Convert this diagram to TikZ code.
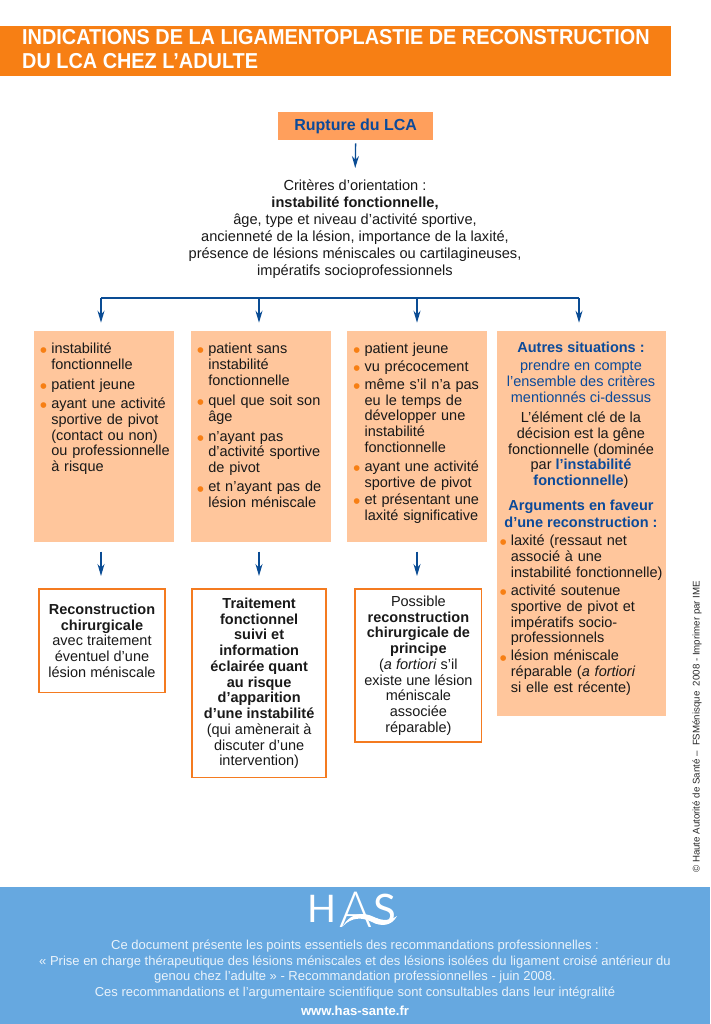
\documentclass[tikz,border=0pt]{standalone}
\usepackage{fontspec}
\setmainfont{Liberation Sans}
\newfontfamily\logofont{Lato Light}
\newfontfamily\logofontb{Lato}
\newfontfamily\titlefont{Liberation Sans}[FakeStretch=0.92]
\usetikzlibrary{arrows.meta,calc}
\definecolor{hdr}{HTML}{F77F14}
\definecolor{peach}{HTML}{FFC69C}
\definecolor{rup}{HTML}{FF9F5C}
\definecolor{navy}{HTML}{0B4A9A}
\definecolor{linkc}{HTML}{0A4C94}
\definecolor{edge}{HTML}{F47B20}
\definecolor{foot}{HTML}{66A8E0}
\definecolor{foottxt}{HTML}{EAF3FB}
\newcommand\itm[1][3.8pt]{\par\vspace{#1}\noindent\makebox[10.3pt][l]{\hspace{-1.1pt}\smash{\raisebox{-4.2pt}{\fontsize{21}{21}\selectfont\textcolor{hdr}{•}}}}\ignorespaces}
\newcommand\cl{\par\noindent\hspace*{10.3pt}\ignorespaces}
\newcommand\nv[1]{\textcolor{navy}{#1}}
\tikzset{
  body/.style={font=\fontsize{14.5}{15.75}\selectfont,text=black!90,inner sep=0pt,outer sep=0pt},
  pbox/.style={fill=peach,draw=none,inner sep=0pt,anchor=north west},
  resbox/.style={draw=edge,line width=1.8pt,fill=white,body,align=center,anchor=north west,inner sep=0pt},
  listtxt/.style={body,anchor=north west,align=left,text width=#1},
  link/.style={draw=linkc,line width=1.3pt},
  arr/.style={link,-{Stealth[length=12pt,width=7pt]}},
}
\begin{document}
\begin{tikzpicture}[x=1pt,y=-1pt]
\useasboundingbox (0,0) rectangle (710,1024);
% header
\node[fill=hdr,anchor=north west,minimum width=671pt,minimum height=50pt,inner sep=0pt] (hdrbar) at (0,26) {};
\node[anchor=north west,inner sep=0pt,text=white,align=left,font=\fontsize{21.6}{23.5}\selectfont\titlefont\bfseries] (title) at (22,29.5) {INDICATIONS DE LA LIGAMENTOPLASTIE DE RECONSTRUCTION\\DU LCA CHEZ L’ADULTE};
% top
\node[fill=rup,anchor=north west,minimum width=155pt,minimum height=28pt,inner sep=0pt,text=navy,font=\fontsize{16}{18}\selectfont\bfseries] (rupture) at (278,112) {Rupture du LCA};
\node[body,font=\fontsize{14.6}{17}\selectfont,align=center,anchor=north] (crit) at (355,180) {Critères d’orientation :\\\textbf{instabilité fonctionnelle,}\\âge, type et niveau d’activité sportive,\\ancienneté de la lésion, importance de la laxité,\\présence de lésions méniscales ou cartilagineuses,\\impératifs socioprofessionnels};
\draw[arr,shorten <=3pt,shorten >=12pt] (rupture.south) -- (crit.north);
% bus
\coordinate (a1) at (101,298);
\coordinate (a2) at (259,298);
\coordinate (a3) at (417,298);
\coordinate (a4) at (579,298);
% boxes
\node[pbox,minimum width=140pt,minimum height=211pt] (box1) at (33.7,330.7) {};
\node[pbox,minimum width=139.6pt,minimum height=211pt] (box2) at (190.7,330.7) {};
\node[pbox,minimum width=139.7pt,minimum height=211pt] (box3) at (347,330.7) {};
\node[pbox,minimum width=169.7pt,minimum height=385.3pt] (box4) at (496.3,330.7) {};
\draw[link] (a1) -- (a4);
\foreach \a/\b in {a1/box1,a2/box2,a3/box3,a4/box4}{
  \draw[arr,shorten >=8pt] (\a) -- (\a |- \b.north);
}
% lists
\node[listtxt=160pt] (t1) at (41,338) {
\itm[0pt] instabilité\cl fonctionnelle
\itm patient jeune
\itm ayant une activité\cl sportive de pivot\cl (contact ou non)\cl ou professionnelle\cl à risque};
\node[listtxt=160pt] (t2) at (198,338) {
\itm[0pt] patient sans\cl instabilité\cl fonctionnelle
\itm[4.3pt] quel que soit son\cl âge
\itm[4.3pt] n’ayant pas\cl d’activité sportive\cl de pivot
\itm[3.6pt] et n’ayant pas de\cl lésion méniscale};
\node[listtxt=160pt] (t3) at (354.3,338) {
\itm[0pt] patient jeune
\itm[2.2pt] vu précocement
\itm[1.8pt] même s’il n’a pas\cl eu le temps de\cl développer une\cl instabilité\cl fonctionnelle
\itm[3.3pt] ayant une activité\cl sportive de pivot
\itm[1.8pt] et présentant une\cl laxité significative};
\node[body,anchor=north,align=center] (t4a) at (581,342) {\nv{\textbf{Autres situations :}}\\[2.3pt]\nv{prendre en compte}\\\nv{l’ensemble des critères}\\\nv{mentionnés ci-dessus}\\[4.8pt]L’élément clé de la\\décision est la gêne\\fonctionnelle (dominée\\par \nv{\textbf{l’instabilité}}\\\nv{\textbf{fonctionnelle}})\\[9.5pt]\nv{\textbf{Arguments en faveur}}\\[0.8pt]\nv{\textbf{d’une reconstruction :}}};
\node[listtxt=170pt] (t4b) at (500.6,530) {
\itm[0pt] laxité (ressaut net\cl associé à une\cl instabilité fonctionnelle)
\itm[2.6pt] activité soutenue\cl sportive de pivot et\cl impératifs socio-\cl professionnels
\itm[2.3pt] lésion méniscale\cl réparable (\textit{a fortiori}\cl si elle est récente)};
% results
\node[resbox,minimum width=125.4pt,minimum height=103.5pt] (res1) at (39.3,589) {\textbf{Reconstruction}\\\textbf{chirurgicale}\\avec traitement\\éventuel d’une\\lésion méniscale};
\node[resbox,minimum width=133.7pt,minimum height=188.5pt] (res2) at (192.3,589) {\textbf{Traitement}\\\textbf{fonctionnel}\\\textbf{suivi et}\\\textbf{information}\\\textbf{éclairée quant}\\\textbf{au risque}\\\textbf{d’apparition}\\\textbf{d’une instabilité}\\(qui amènerait à\\discuter d’une\\intervention)};
\node[resbox,minimum width=126.2pt,minimum height=153pt] (res3) at (355.3,589) {Possible\\\textbf{reconstruction}\\\textbf{chirurgicale de}\\\textbf{principe}\\(\textit{a fortiori} s’il\\existe une lésion\\méniscale\\associée\\réparable)};
\foreach \a/\b/\c in {a1/box1/res1,a2/box2/res2,a3/box3/res3}{
  \draw[arr,shorten <=9.5pt,shorten >=13pt] (\a |- \b.south) -- (\a |- \c.north);
}
% side text
\node[rotate=90,anchor=west,inner sep=0pt,font=\fontsize{9.7}{11}\selectfont,text=black!85] (copy) at (697,873) {© Haute Autorité de Santé – \ FSMénisque \ 2008 - Imprimer par IME};
% footer
\node[fill=foot,anchor=north west,minimum width=710pt,minimum height=137pt,inner sep=0pt] (footbar) at (0,887) {};
\node[inner sep=0pt,text=white,font=\fontsize{38}{38}\selectfont\logofontb] (logoH) at (322,909) {H};
\node[inner sep=0pt,text=white,font=\fontsize{50}{50}\selectfont\logofont] (logoA) at (355.5,910) {A};
\node[inner sep=0pt,text=white,font=\fontsize{42}{42}\selectfont\logofontb] (logoS) at (385,909) {S};
\fill[white] (343,926) .. controls (351,912) and (364,912) .. (374,917) .. controls (382,921) and (390,921) .. (397,916) .. controls (392,926) and (381,927) .. (372,922) .. controls (362,917) and (352,917) .. (343,926) -- cycle;
\node[anchor=north,inner sep=0pt,align=center,text=foottxt,font=\fontsize{13}{15.6}\selectfont] (foottext) at (355,940) {Ce document présente les points essentiels des recommandations professionnelles :\\« Prise en charge thérapeutique des lésions méniscales et des lésions isolées du ligament croisé antérieur du\\genou chez l’adulte » - Recommandation professionnelles - juin 2008.\\Ces recommandations et l’argumentaire scientifique sont consultables dans leur intégralité};
\node[anchor=center,inner sep=0pt,text=white,font=\fontsize{13.1}{15}\selectfont\bfseries] (url) at (355,1011) {www.has-sante.fr};
\end{tikzpicture}
\end{document}
